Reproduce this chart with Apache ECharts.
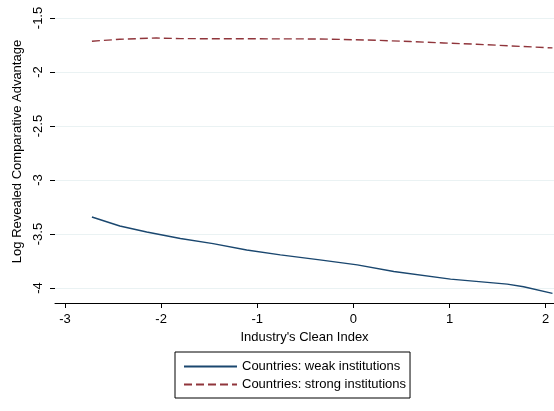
<!DOCTYPE html>
<html>
<head>
<meta charset="utf-8">
<script src="https://cdn.jsdelivr.net/npm/echarts@6/dist/echarts.min.js"></script>
<style>html,body{margin:0;padding:0;background:#fff}#c{width:554px;height:411px}</style>
</head>
<body>
<div id="c"></div>
<script>
var weakX = [-2.72, -2.43, -2.15, -1.80, -1.46, -1.11, -0.76, -0.35, 0.04, 0.42, 1.01, 1.60, 1.77, 2.07];
var weakY = [-3.342, -3.425, -3.481, -3.541, -3.588, -3.647, -3.693, -3.739, -3.785, -3.846, -3.917, -3.963, -3.988, -4.049];
var strongX = [-2.72, -2.43, -2.05, -1.80, -0.35, 0.24, 0.59, 0.94, 1.28, 1.63, 2.07];
var strongY = [-1.715, -1.697, -1.685, -1.691, -1.694, -1.706, -1.718, -1.731, -1.743, -1.758, -1.777];
var xTicks = [-3, -2, -1, 0, 1, 2];
var yTicks = [-4, -3.5, -3, -2.5, -2, -1.5];
var seriesNames = ['Countries: weak institutions', 'Countries: strong institutions'];
var xTitle = "Industry's Clean Index";
var yTitle = 'Log Revealed Comparative Advantage';

function pairs(xs, ys) { return xs.map(function (x, i) { return [x, ys[i]]; }); }
var font = 'Liberation Sans, Arial, sans-serif';
var chart = echarts.init(document.getElementById('c'), null, {renderer: 'canvas'});
chart.setOption({
  animation: false,
  backgroundColor: '#fff',
  grid: {left: 55, right: 0, top: 10, bottom: 108},
  xAxis: {
    type: 'value', min: -3.104, max: 2.086,
    name: xTitle, nameLocation: 'middle', nameGap: 23,
    nameTextStyle: {fontFamily: font, fontSize: 13, color: '#000'},
    axisLine: {show: true, onZero: false, lineStyle: {color: '#000', width: 1}},
    axisTick: {show: true, length: 5, lineStyle: {color: '#000'}, customValues: xTicks},
    axisLabel: {fontFamily: font, fontSize: 13, color: '#000', margin: 10, customValues: xTicks, formatter: function(v){return String(v);}},
    splitLine: {show: false}
  },
  yAxis: {
    type: 'value', min: -4.138, max: -1.426,
    name: yTitle, nameLocation: 'middle', nameGap: 22, nameRotate: 90,
    nameTextStyle: {fontFamily: font, fontSize: 13, color: '#000', padding: [0, 0, 0, 10]},
    axisLine: {show: false, onZero: false},
    axisTick: {show: true, length: 5, lineStyle: {color: '#000'}, customValues: yTicks},
    axisLabel: {fontFamily: font, fontSize: 13, color: '#000', margin: 10, rotate: 90, customValues: yTicks, formatter: function(v){return String(v);}},
    splitLine: {show: true, lineStyle: {color: '#eaf2f3', width: 1}}
  },
  legend: {
    orient: 'vertical', left: 175, top: 352,
    padding: [8, 4, 7, 8], itemGap: 5, itemWidth: 53, itemHeight: 14,
    borderColor: '#000', borderWidth: 1, borderRadius: 0,
    itemStyle: {opacity: 0},
    textStyle: {fontFamily: font, fontSize: 13, color: '#000'},
    data: seriesNames
  },
  series: [
    {name: seriesNames[0], type: 'line', data: pairs(weakX, weakY), showSymbol: false, symbol: 'none', smooth: false,
     lineStyle: {color: '#1a476f', width: 1.4}, itemStyle: {color: '#1a476f'}},
    {name: seriesNames[1], type: 'line', data: pairs(strongX, strongY), showSymbol: false, symbol: 'none', smooth: false,
     lineStyle: {color: '#90353b', width: 1.4, type: [8, 4]}, itemStyle: {color: '#90353b'}}
  ]
});
</script>
</body>
</html>
